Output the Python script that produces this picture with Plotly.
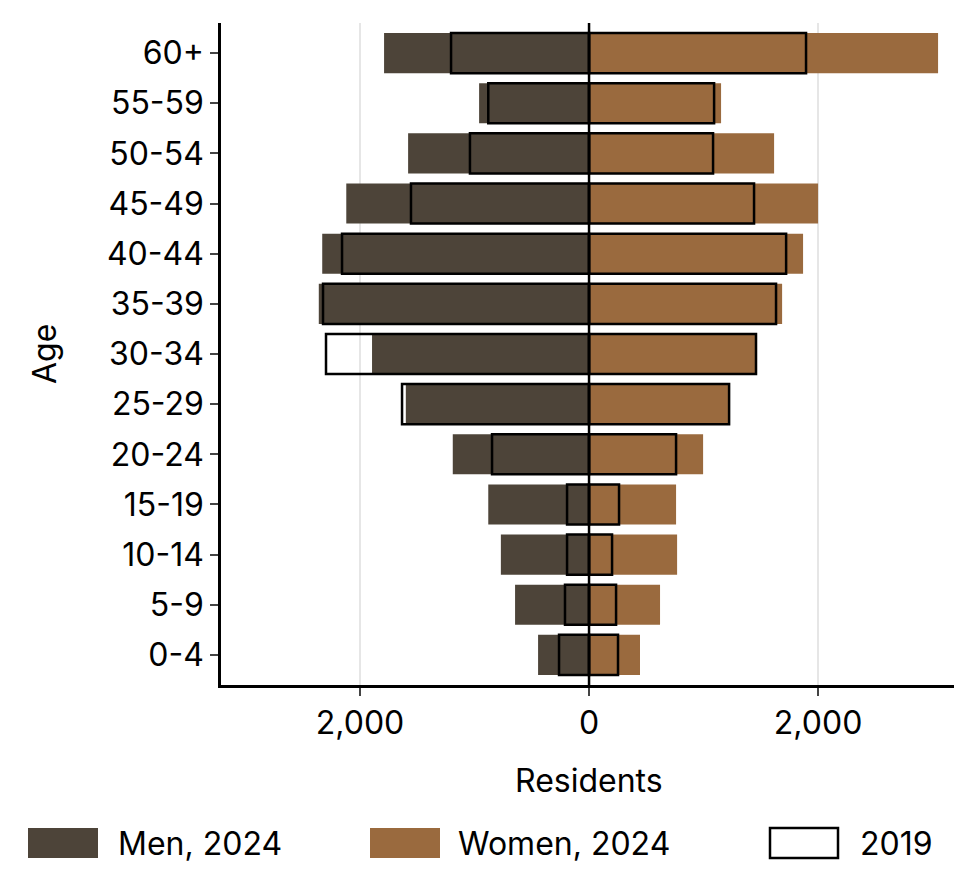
import plotly.graph_objects as go

ages = ["0-4","5-9","10-14","15-19","20-24","25-29","30-34","35-39","40-44","45-49","50-54","55-59","60+"]
men_2024 = [445,646,770,880,1190,1600,1895,2360,2330,2120,1580,960,1790]
women_2024 = [445,620,769,760,996,1231,1467,1686,1869,2000,1616,1153,3048]
men_2019 = [262,210,192,192,847,1633,2297,2323,2157,1555,1040,880,1205]
women_2019 = [253,236,201,262,760,1223,1458,1633,1721,1441,1083,1092,1895]

MEN_C = "#4d4439"
WOMEN_C = "#9a6a3e"

fig = go.Figure()
fig.add_bar(y=ages, x=[-v for v in men_2024], orientation="h", name="Men, 2024",
            marker=dict(color=MEN_C, line=dict(width=0)), width=0.8)
fig.add_bar(y=ages, x=women_2024, orientation="h", name="Women, 2024",
            marker=dict(color=WOMEN_C, line=dict(width=0)), width=0.8)
fig.add_bar(y=ages, x=[-v for v in men_2019], orientation="h", name="2019",
            marker=dict(color="rgba(0,0,0,0)", line=dict(color="black", width=2.5)), width=0.8)
fig.add_bar(y=ages, x=women_2019, orientation="h", name="2019",
            marker=dict(color="rgba(0,0,0,0)", line=dict(color="black", width=2.5)), width=0.8)

fig.add_shape(type="line", x0=0, x1=0, y0=0, y1=1, yref="paper", line=dict(color="black", width=2.5))

# custom legend (paper coords)
W, H, L, B = 737, 662, 213, 677
def px(x): return (x - L) / W
def py(y): return (B - y) / H
legend_items = [(20, 90, MEN_C, None, 108, "Men, 2024"),
                (362, 432, WOMEN_C, None, 448, "Women, 2024"),
                (762, 830, "white", "black", 850, "2019")]
for x0, x1, fc, lc, tx, label in legend_items:
    fig.add_shape(type="rect", xref="paper", yref="paper", x0=px(x0), x1=px(x1), y0=py(850), y1=py(820),
                  fillcolor=fc, line=dict(color=lc or fc, width=2.5 if lc else 0))
    fig.add_annotation(xref="paper", yref="paper", x=px(tx), y=py(835), text=label, showarrow=False,
                       xanchor="left", yanchor="middle", font=dict(size=32))
fig.add_annotation(xref="paper", yref="paper", x=px(36), y=py(346), text="Age", showarrow=False,
                   textangle=-90, xanchor="center", yanchor="middle", font=dict(size=32))
fig.add_annotation(xref="paper", yref="paper", x=px(581), y=py(772), text="Residents", showarrow=False,
                   xanchor="center", yanchor="middle", font=dict(size=32))

fig.update_layout(
    width=962, height=873, barmode="overlay", plot_bgcolor="white", paper_bgcolor="white",
    font=dict(family="Inter", size=32, color="black"), showlegend=False,
    margin=dict(l=213, r=12, t=15, b=196, autoexpand=False),
    xaxis=dict(range=[-3214, 3222], tickvals=[-2000, 0, 2000], ticktext=["2,000", "0", "2,000"],
               showgrid=True, gridcolor="#e6e6e6", gridwidth=1.5, zeroline=False, automargin=False,
               showline=True, linecolor="black", linewidth=2.5, ticks="outside", ticklen=8,
               tickwidth=2),
    yaxis=dict(showgrid=False, showline=True, linecolor="black", linewidth=2.5, ticks="outside",
               ticklen=8, tickwidth=2, range=[-0.6, 12.6], automargin=False),
)
fig.write_html("out.html")
